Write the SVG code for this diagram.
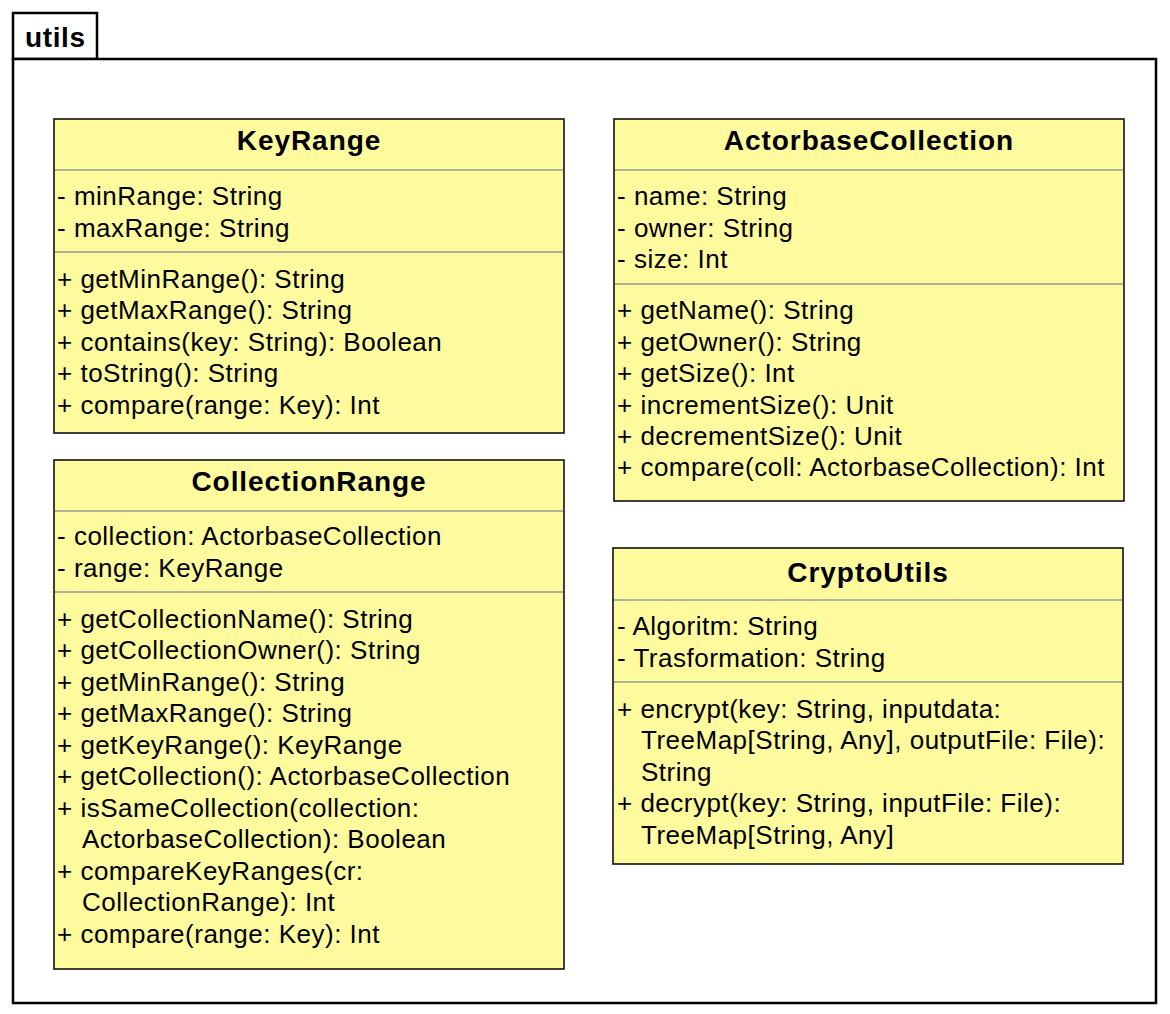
<svg xmlns="http://www.w3.org/2000/svg" width="1170" height="1014" viewBox="0 0 1170 1014">
<style>
.box{fill:#fefb9f;stroke:#111;stroke-width:1.6}
.sep{stroke:#999;stroke-width:1.5}
.pkg{fill:#fff;stroke:#000;stroke-width:2.5}
.t{font-family:"Liberation Sans",Arial,sans-serif;font-size:26px;letter-spacing:0.5px;fill:#000}
.h{font-family:"Liberation Sans",Arial,sans-serif;font-size:28px;letter-spacing:0.95px;font-weight:bold;fill:#000;text-anchor:middle}
.pk{font-family:"Liberation Sans",Arial,sans-serif;font-size:28px;letter-spacing:0.6px;font-weight:bold;fill:#000}
</style>
<rect width="1170" height="1014" fill="#fff"/>
<g id="package-utils">
<rect class="pkg" x="13" y="13" width="84" height="46"/>
<rect class="pkg" x="13" y="59" width="1143" height="944"/>
<text class="pk" x="25" y="47">utils</text>
</g>
<g id="KeyRange">
<rect class="box" x="54" y="119" width="510" height="314"/>
<line class="sep" x1="55" y1="170" x2="563" y2="170"/>
<line class="sep" x1="55" y1="252" x2="563" y2="252"/>
<text class="h" x="309" y="150">KeyRange</text>
<text class="t" x="57" y="205">- minRange: String</text>
<text class="t" x="57" y="237">- maxRange: String</text>
<text class="t" x="57" y="288">+ getMinRange(): String</text>
<text class="t" x="57" y="319">+ getMaxRange(): String</text>
<text class="t" x="57" y="351">+ contains(key: String): Boolean</text>
<text class="t" x="57" y="382">+ toString(): String</text>
<text class="t" x="57" y="414">+ compare(range: Key): Int</text>
</g>
<g id="ActorbaseCollection">
<rect class="box" x="614" y="119" width="510" height="382"/>
<line class="sep" x1="615" y1="170" x2="1123" y2="170"/>
<line class="sep" x1="615" y1="284" x2="1123" y2="284"/>
<text class="h" x="869" y="150">ActorbaseCollection</text>
<text class="t" x="617" y="205">- name: String</text>
<text class="t" x="617" y="237">- owner: String</text>
<text class="t" x="617" y="268">- size: Int</text>
<text class="t" x="617" y="319">+ getName(): String</text>
<text class="t" x="617" y="351">+ getOwner(): String</text>
<text class="t" x="617" y="382">+ getSize(): Int</text>
<text class="t" x="617" y="414">+ incrementSize(): Unit</text>
<text class="t" x="617" y="445">+ decrementSize(): Unit</text>
<text class="t" x="617" y="476">+ compare(coll: ActorbaseCollection): Int</text>
</g>
<g id="CollectionRange">
<rect class="box" x="54" y="460" width="510" height="509"/>
<line class="sep" x1="55" y1="511" x2="563" y2="511"/>
<line class="sep" x1="55" y1="592" x2="563" y2="592"/>
<text class="h" x="309" y="491">CollectionRange</text>
<text class="t" x="57" y="545">- collection: ActorbaseCollection</text>
<text class="t" x="57" y="577">- range: KeyRange</text>
<text class="t" x="57" y="628">+ getCollectionName(): String</text>
<text class="t" x="57" y="659">+ getCollectionOwner(): String</text>
<text class="t" x="57" y="691">+ getMinRange(): String</text>
<text class="t" x="57" y="722">+ getMaxRange(): String</text>
<text class="t" x="57" y="754">+ getKeyRange(): KeyRange</text>
<text class="t" x="57" y="785">+ getCollection(): ActorbaseCollection</text>
<text class="t" x="57" y="817">+ isSameCollection(collection:</text>
<text class="t" x="82" y="848">ActorbaseCollection): Boolean</text>
<text class="t" x="57" y="880">+ compareKeyRanges(cr:</text>
<text class="t" x="82" y="911">CollectionRange): Int</text>
<text class="t" x="57" y="943">+ compare(range: Key): Int</text>
</g>
<g id="CryptoUtils">
<rect class="box" x="613" y="548" width="510" height="316"/>
<line class="sep" x1="614" y1="600" x2="1122" y2="600"/>
<line class="sep" x1="614" y1="682" x2="1122" y2="682"/>
<text class="h" x="868" y="582">CryptoUtils</text>
<text class="t" x="617" y="635">- Algoritm: String</text>
<text class="t" x="617" y="667">- Trasformation: String</text>
<text class="t" x="617" y="718">+ encrypt(key: String, inputdata:</text>
<text class="t" x="641" y="749">TreeMap[String, Any], outputFile: File):</text>
<text class="t" x="641" y="781">String</text>
<text class="t" x="617" y="812">+ decrypt(key: String, inputFile: File):</text>
<text class="t" x="641" y="844">TreeMap[String, Any]</text>
</g>
<g id="connectors"></g>
</svg>
